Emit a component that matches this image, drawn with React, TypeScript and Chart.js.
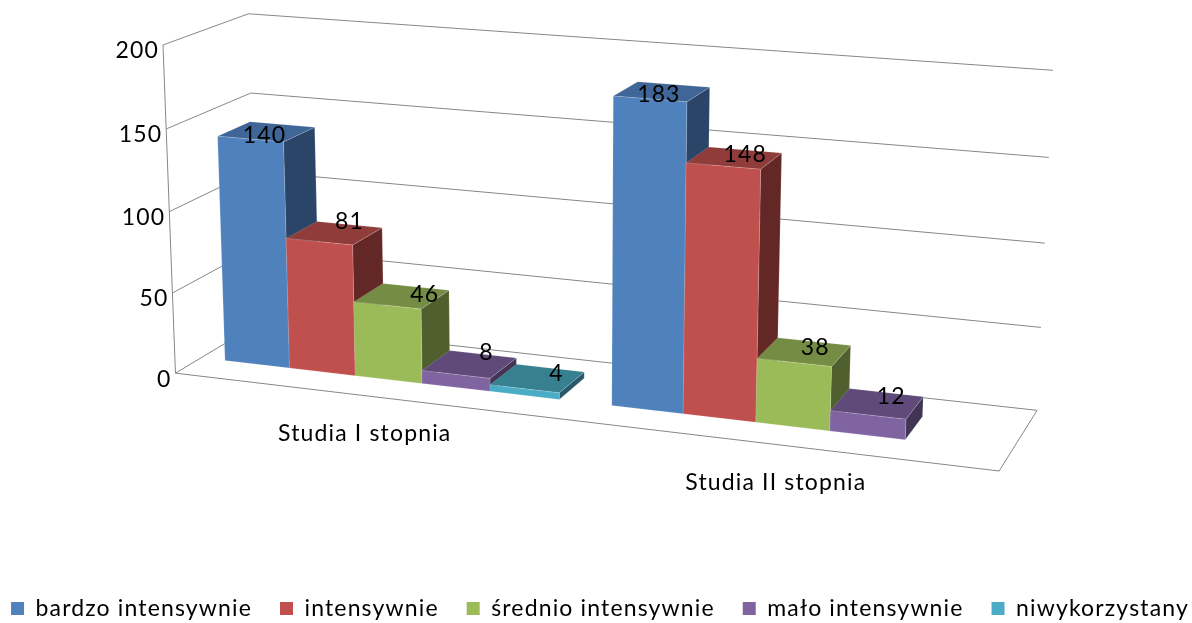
import React, { useEffect, useRef } from "react";
import { Chart, registerables } from "chart.js";

Chart.register(...registerables);

const categories = ["Studia I stopnia", "Studia II stopnia"];
const seriesNames = ["bardzo intensywnie", "intensywnie", "średnio intensywnie", "mało intensywnie", "niwykorzystany"];
const bardzoIntensywnie = [140, 183];
const intensywnie = [81, 148];
const srednioIntensywnie = [46, 38];
const maloIntensywnie = [8, 12];
const niewykorzystany = [4, null];
const yTicks = { min: 0, max: 200, stepSize: 50 };

const frontColors = ["#4F81BD", "#C0504D", "#9BBB59", "#8064A2", "#4BACC6"];
const topColors = ["#3F6696", "#8F3C3A", "#748C43", "#5F4A79", "#37808F"];
const sideColors = ["#2A4567", "#632826", "#505F2E", "#423455", "#27596A"];
const FONT = "Lato, sans-serif";
const GRID = "#868686";
const BAR_W0 = 0.3;
const BAR_W1 = 0.69;
const LEGEND_CENTER_X = 600;
const LEGEND_CENTER_Y = 610;
const LEGEND_PADDING = 28;
const LEGEND_ROW = 1260;

// label offsets, px, [dataset][category]
const labelNudge = [
  [[-2, 4], [-3, 3]],
  [[15, -12], [11, -3]],
  [[23, -1], [11, -4]],
  [[17, -12], [14, -7]],
  [[19, -5], [0, 0]],
];

// Calibration of the oblique view: (u, v, w) of the plot box -> page pixel.
const calibration: number[][] = [
  [0, 0, 0, 176, 373.7], [0, 0.25, 0, 173, 292.7], [0, 0.5, 0, 169.5, 210], [0, 0.75, 0, 166, 128], [0, 1, 0, 162, 46.5],
  [0, 0, 1, 257, 325], [0, 0.75, 1, 250.7, 92], [0, 1, 1, 249, 14.5],
  [1, 0, 1, 1036.7, 409.7], [1, 0.25, 1, 1041, 327], [1, 0.5, 1, 1045, 243], [1, 0.75, 1, 1049, 157], [1, 1, 1, 1053, 71],
  [1, 0, 0, 999, 472],
];

function fitProjection(pts: number[][]) {
  const n = 11;
  const A = Array.from({ length: n }, () => new Array(n + 1).fill(0));
  const add = (r: number[], t: number) => {
    for (let i = 0; i < n; i++) {
      for (let j = 0; j < n; j++) A[i][j] += r[i] * r[j];
      A[i][n] += r[i] * t;
    }
  };
  for (const [u, v, w, px, py] of pts) {
    const x = px / 1000, y = py / 1000;
    add([u, v, w, 1, 0, 0, 0, 0, -x * u, -x * v, -x * w], x);
    add([0, 0, 0, 0, u, v, w, 1, -y * u, -y * v, -y * w], y);
  }
  for (let c = 0; c < n; c++) {
    let best = c;
    for (let r = c + 1; r < n; r++) if (Math.abs(A[r][c]) > Math.abs(A[best][c])) best = r;
    [A[c], A[best]] = [A[best], A[c]];
    for (let r = 0; r < n; r++) {
      if (r === c) continue;
      const f = A[r][c] / A[c][c];
      for (let k = c; k <= n; k++) A[r][k] -= f * A[c][k];
    }
  }
  const p = A.map((row, i) => row[n] / row[i]);
  return (u: number, v: number, w: number): [number, number] => {
    const d = p[8] * u + p[9] * v + p[10] * w + 1;
    return [
      (1000 * (p[0] * u + p[1] * v + p[2] * w + p[3])) / d,
      (1000 * (p[4] * u + p[5] * v + p[6] * w + p[7])) / d,
    ];
  };
}

const project = fitProjection(calibration);

function poly(ctx: CanvasRenderingContext2D, pts: [number, number][], fill: string) {
  ctx.beginPath();
  pts.forEach((p, i) => (i ? ctx.lineTo(p[0], p[1]) : ctx.moveTo(p[0], p[1])));
  ctx.closePath();
  ctx.fillStyle = fill;
  ctx.fill();
  ctx.strokeStyle = "rgba(255,255,255,0.22)";
  ctx.lineWidth = 0.7;
  ctx.stroke();
}

function line(ctx: CanvasRenderingContext2D, pts: [number, number][]) {
  ctx.beginPath();
  pts.forEach((p, i) => (i ? ctx.lineTo(p[0], p[1]) : ctx.moveTo(p[0], p[1])));
  ctx.stroke();
}

const oblique3d = {
  id: "oblique3d",
  beforeLayout(chart: any) {
    chart.ctx.letterSpacing = "1.15px";
    // keep all five entries on one row, as wide as the page
    const lg = chart.legend;
    if (!lg._oneRow) {
      const fit = lg.fit;
      lg.fit = function () {
        this.maxWidth = LEGEND_ROW;
        fit.call(this);
      };
      lg._oneRow = true;
    }
  },
  afterLayout(chart: any) {
    // drop the row onto the page's bottom line
    const lg = chart.legend;
    const h = lg.bottom - lg.top;
    lg.top = LEGEND_CENTER_Y - LEGEND_PADDING - 13;
    lg.bottom = lg.top + h;
    lg.left = LEGEND_CENTER_X - LEGEND_ROW / 2;
    lg.right = LEGEND_CENTER_X + LEGEND_ROW / 2;
  },
  beforeDraw(chart: any) {
    chart.ctx.letterSpacing = "1.15px";
  },
  beforeDatasetsDraw(chart: any) {
    const { ctx, chartArea: a, scales } = chart;
    const U = (px: number) => (px - a.left) / (a.right - a.left);
    const V = (px: number) => (a.bottom - px) / (a.bottom - a.top);
    ctx.save();

    // walls and floor
    ctx.strokeStyle = GRID;
    ctx.lineWidth = 1;
    line(ctx, [project(0, 0, 0), project(0, 1, 0)]);
    line(ctx, [project(0, 0, 0), project(1, 0, 0), project(1, 0, 1)]);
    for (const t of scales.y.ticks) {
      const v = V(scales.y.getPixelForValue(t.value));
      line(ctx, [project(0, v, 0), project(0, v, 1), project(1, v, 1)]);
    }

    // tick labels
    ctx.fillStyle = "#000";
    ctx.font = `23px ${FONT}`;
    ctx.textAlign = "right";
    ctx.textBaseline = "middle";
    for (const t of scales.y.ticks) {
      const v = V(scales.y.getPixelForValue(t.value));
      const [x, y] = project(0, v, 0);
      ctx.fillText(String(t.value), x - 4, y + 6);
    }
    ctx.textAlign = "center";
    categories.forEach((c, i) => {
      const [x, y] = project(U(scales.x.getPixelForValue(i)), 0, 0);
      ctx.fillText(c, x - 1, y + 38);
    });

    // bars
    const labels: [string, number, number][] = [];
    chart.data.datasets.forEach((ds: any, d: number) => {
      const meta = chart.getDatasetMeta(d);
      meta.data.forEach((el: any, i: number) => {
        const val = ds.data[i];
        if (val == null) return;
        const u0 = U(el.x - el.width / 2);
        const u1 = U(el.x + el.width / 2);
        const v1 = V(el.y);
        const v0 = V(el.base);
        poly(ctx, [project(u1, v0, BAR_W0), project(u1, v0, BAR_W1), project(u1, v1, BAR_W1), project(u1, v1, BAR_W0)], sideColors[d]);
        poly(ctx, [project(u0, v1, BAR_W0), project(u1, v1, BAR_W0), project(u1, v1, BAR_W1), project(u0, v1, BAR_W1)], topColors[d]);
        poly(ctx, [project(u0, v0, BAR_W0), project(u1, v0, BAR_W0), project(u1, v1, BAR_W0), project(u0, v1, BAR_W0)], frontColors[d]);
        const [cx, cy] = project((u0 + u1) / 2, v1, (BAR_W0 + BAR_W1) / 2);
        const [nx, ny] = labelNudge[d][i];
        labels.push([String(val), cx + nx, cy + ny]);
      });
    });
    ctx.fillStyle = "#000";
    ctx.textAlign = "center";
    for (const [s, x, y] of labels) ctx.fillText(s, x, y);
    ctx.restore();
    return false;
  },
};

export default function App() {
  const ref = useRef<HTMLCanvasElement>(null);
  useEffect(() => {
    const series = [bardzoIntensywnie, intensywnie, srednioIntensywnie, maloIntensywnie, niewykorzystany];
    const chart = new Chart(ref.current!, {
      type: "bar",
      data: {
        labels: categories,
        datasets: seriesNames.map((label, i) => ({
          label,
          data: series[i],
          backgroundColor: frontColors[i],
          borderWidth: 0,
          barPercentage: 1,
          categoryPercentage: 0.87,
        })),
      },
      options: {
        responsive: false,
        animation: false,
        scales: {
          x: { display: false },
          y: { display: false, min: yTicks.min, max: yTicks.max, ticks: { stepSize: yTicks.stepSize } },
        },
        plugins: {
          tooltip: { enabled: false },
          title: { display: false },
          legend: {
            position: "bottom",
            labels: {
              boxWidth: 13,
              boxHeight: 13,
              padding: LEGEND_PADDING,
              color: "#000",
              font: { family: FONT, size: 23 },
            },
          },
        },
      },
      plugins: [oblique3d],
    } as any);
    return () => chart.destroy();
  }, []);
  return (
    <div style={{ position: "absolute", left: 0, top: 0, width: 1192, height: 623, background: "#fff" }}>
      <canvas ref={ref} width={1192} height={623} style={{ display: "block" }} />
    </div>
  );
}
